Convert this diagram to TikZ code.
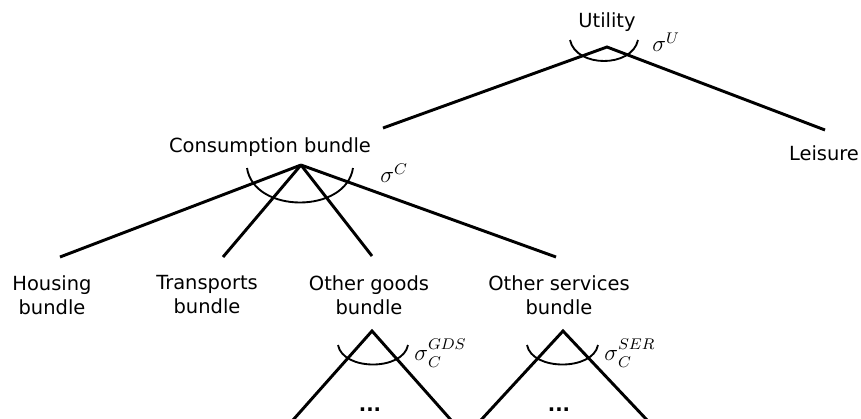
\documentclass[tikz,border=0pt]{standalone}
\usepackage{fontspec}
\setmainfont{DejaVu Sans}
% elasticity symbol with a lowered subscript and a raised superscript
\newcommand\elsig[2]{$\sigma\rlap{\raisebox{0.48em}{$\scriptstyle #2$}}\raisebox{-0.3em}{$\scriptstyle #1$}$}
\begin{document}
\begin{tikzpicture}[x=0.75pt,y=-0.75pt,
  lbl/.style={inner sep=0pt,align=center,font=\fontsize{14.6}{18}\selectfont},
  sig/.style={inner sep=0pt,anchor=west,font=\fontsize{12}{14}\selectfont},
  branch/.style={line width=2.2pt},
  elast/.style={line width=1.4pt}]
\useasboundingbox (0,0) rectangle (861,418);

% labels
\node[lbl] (util) at (607,22) {Utility};
\node[lbl] (cons) at (270,147) {Consumption bundle};
\node[lbl] (leis) at (824,153) {Leisure};
\node[lbl] (hous) at (52,295) {Housing\\bundle};
\node[lbl] (trans) at (207,295) {Transports\\bundle};
\node[lbl] (goods) at (369,295) {Other goods\\bundle};
\node[lbl] (serv) at (559,295) {Other services\\bundle};

% branching points
\coordinate (uA) at (607,47);
\coordinate (cA) at (301,165);
\coordinate (gA) at (372,331);
\coordinate (sA) at (563,331);

% branch ends
\coordinate (uL) at (383,128);
\coordinate (uR) at (825,130);
\coordinate (cH) at (60,257);
\coordinate (cT) at (223,257);
\coordinate (cG) at (372,256);
\coordinate (cS) at (556,257);
\coordinate (gL) at (293,420);
\coordinate (gR) at (451,420);
\coordinate (sL) at (481,420);
\coordinate (sR) at (647,420);

% top level: utility
\draw[branch] (uL) -- (uA) -- (uR);
\draw[elast] (570,40) .. controls (576,68) and (632,68) .. (638,40);
\node[sig] (sU) at (652,42) {\scalebox{1.45}{$\sigma^{U}$}};

% consumption bundle
\draw[branch] (cA) -- (cH);
\draw[branch] (cA) -- (cT);
\draw[branch] (cA) -- (cG);
\draw[branch] (cA) -- (cS);
\draw[elast] (247,168) .. controls (254,214) and (346,214) .. (353,168);
\node[sig] (sC) at (380,173) {\scalebox{1.45}{$\sigma^{C}$}};

% other goods bundle
\draw[branch] (gL) -- (gA) -- (gR);
\draw[elast] (338,345) .. controls (343,371) and (403,371) .. (408,345);
\node[sig] (sG) at (414,353) {\scalebox{1.45}{\elsig{C}{GDS}}};
\node[lbl,font=\fontsize{14.6}{18}\selectfont\bfseries] (gDots) at (370,410) {...};

% other services bundle
\draw[branch] (sL) -- (sA) -- (sR);
\draw[elast] (527,345) .. controls (532,371) and (593,371) .. (598,345);
\node[sig] (sS) at (604,353) {\scalebox{1.45}{\elsig{C}{SER}}};
\node[lbl,font=\fontsize{14.6}{18}\selectfont\bfseries] (sDots) at (559,410) {...};
\end{tikzpicture}
\end{document}
